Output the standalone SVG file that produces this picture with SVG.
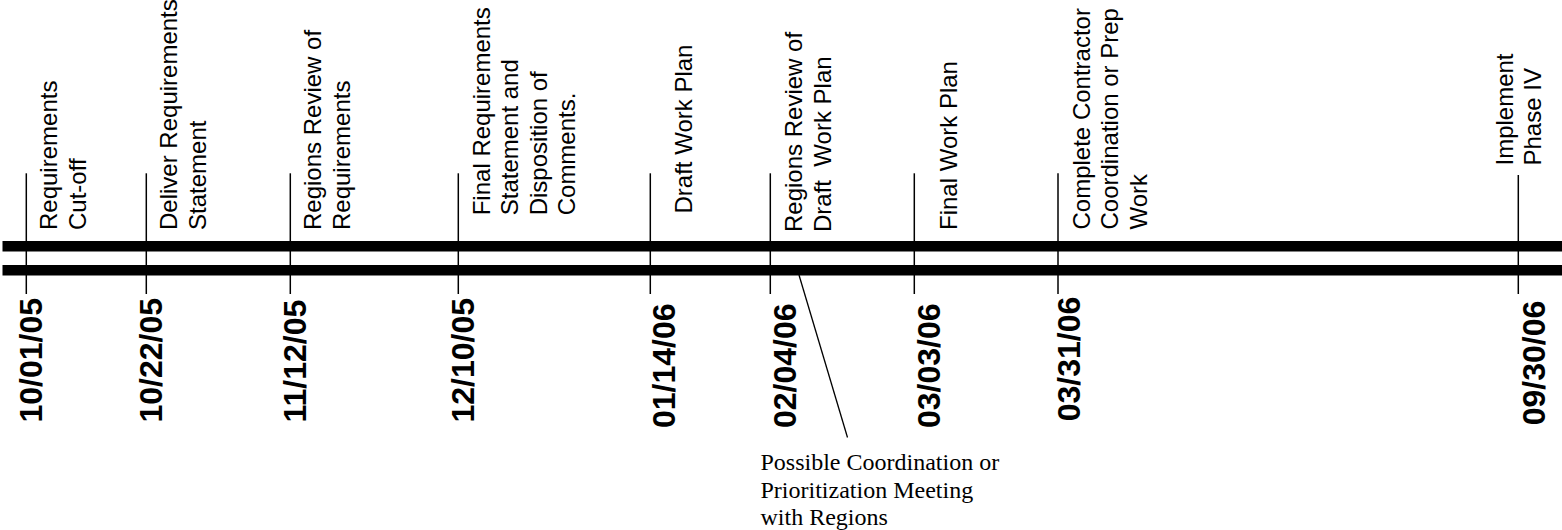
<svg xmlns="http://www.w3.org/2000/svg" width="1562" height="530" viewBox="0 0 1562 530">
<style>
.lbl{font-family:"Liberation Sans",Arial,sans-serif;font-size:24px;fill:#000;white-space:pre}
.date{font-family:"Liberation Sans",Arial,sans-serif;font-size:32px;font-weight:bold;fill:#000}
.note{font-family:"Liberation Serif","Times New Roman",serif;font-size:24px;fill:#000}
.tick{stroke:#000;stroke-width:1.5;fill:none}
.bar{fill:#000}
</style>
<rect width="1562" height="530" fill="#fff"/>
<g id="timeline">
<rect class="bar" x="2.5" y="241" width="1560" height="10.5"/>
<rect class="bar" x="2.5" y="265" width="1560" height="10.5"/>
</g>
<g id="connectors">
<line x1="799" y1="275" x2="847.5" y2="437.5" stroke="#000" stroke-width="1.3"/>
</g>
<g id="m1">
<line class="tick" x1="26.3" y1="173.3" x2="26.3" y2="294"/>
<text class="lbl" transform="translate(57.2,230) rotate(-90)"><tspan x="0" y="0">Requirements</tspan><tspan x="0" dy="29">Cut-off</tspan></text>
<text class="date" transform="translate(42.3,422.5) rotate(-90)">10/01/05</text>
</g>
<g id="m2">
<line class="tick" x1="146.3" y1="173.3" x2="146.3" y2="294"/>
<text class="lbl" transform="translate(177.2,230) rotate(-90)"><tspan x="0" y="0">Deliver Requirements</tspan><tspan x="0" dy="29">Statement</tspan></text>
<text class="date" transform="translate(162.3,422.5) rotate(-90)">10/22/05</text>
</g>
<g id="m3">
<line class="tick" x1="290.3" y1="173.3" x2="290.3" y2="294"/>
<text class="lbl" transform="translate(321.2,230) rotate(-90)"><tspan x="0" y="0">Regions Review of</tspan><tspan x="0" dy="29.3">Requirements</tspan></text>
<text class="date" transform="translate(306.3,422.5) rotate(-90)">11/12/05</text>
</g>
<g id="m4">
<line class="tick" x1="458.3" y1="173.3" x2="458.3" y2="294"/>
<text class="lbl" transform="translate(490,215.3) rotate(-90)"><tspan x="0" y="0">Final Requirements</tspan><tspan x="0" dy="28.3">Statement and</tspan><tspan x="0" dy="28.3">Disposition of</tspan><tspan x="0" dy="28.3">Comments.</tspan></text>
<text class="date" transform="translate(473.6,422.5) rotate(-90)">12/10/05</text>
</g>
<g id="m5">
<line class="tick" x1="650.3" y1="173.3" x2="650.3" y2="294"/>
<text class="lbl" transform="translate(692,213.5) rotate(-90)">Draft Work Plan</text>
<text class="date" transform="translate(674.6,428) rotate(-90)">01/14/06</text>
</g>
<g id="m6">
<line class="tick" x1="770.3" y1="173.3" x2="770.3" y2="294"/>
<text class="lbl" transform="translate(801.5,232) rotate(-90)"><tspan x="0" y="0">Regions Review of</tspan><tspan x="0" dy="29">Draft  Work Plan</tspan></text>
<text class="date" transform="translate(796.3,428) rotate(-90)">02/04/06</text>
</g>
<g id="m7">
<line class="tick" x1="914.3" y1="173.3" x2="914.3" y2="294"/>
<text class="lbl" transform="translate(956.5,230) rotate(-90)">Final Work Plan</text>
<text class="date" transform="translate(940.3,428) rotate(-90)">03/03/06</text>
</g>
<g id="m8">
<line class="tick" x1="1058" y1="173.3" x2="1058" y2="294"/>
<text class="lbl" transform="translate(1089.5,229.5) rotate(-90)"><tspan x="0" y="0">Complete Contractor</tspan><tspan x="0" dy="28.5">Coordination or Prep</tspan><tspan x="0" dy="28.5">Work</tspan></text>
<text class="date" transform="translate(1079.6,421.3) rotate(-90)">03/31/06</text>
</g>
<g id="m9">
<line class="tick" x1="1518.3" y1="175" x2="1518.3" y2="294"/>
<text class="lbl" transform="translate(1513.2,165.5) rotate(-90)"><tspan x="0" y="0">Implement</tspan><tspan x="0" dy="28">Phase IV</tspan></text>
<text class="date" transform="translate(1544.6,425.3) rotate(-90)">09/30/06</text>
</g>
<g id="note">
<text class="note" x="760.5" y="470"><tspan x="760.5" y="470">Possible Coordination or</tspan><tspan x="760.5" y="497.5">Prioritization Meeting</tspan><tspan x="760.5" y="525">with Regions</tspan></text>
</g>
</svg>
